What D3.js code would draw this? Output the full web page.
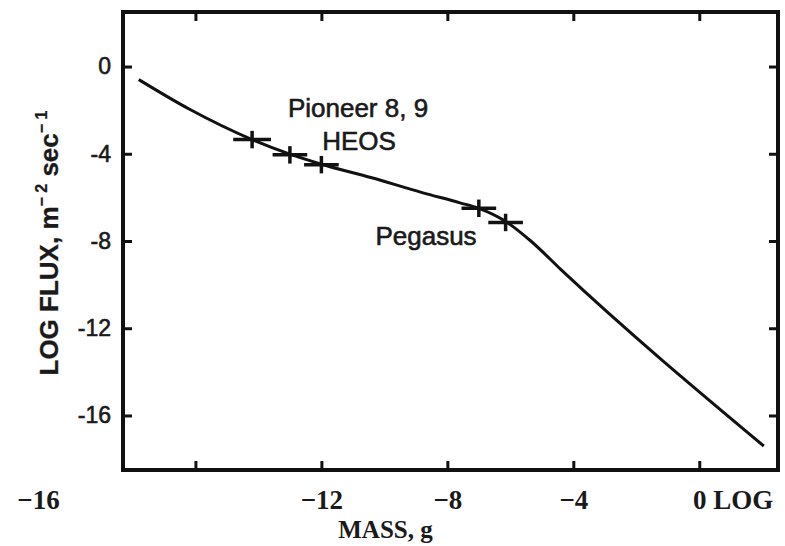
<!DOCTYPE html>
<html>
<head>
<meta charset="utf-8">
<script src="https://cdn.jsdelivr.net/npm/d3@7"></script>
<style>
    body { margin: 0; background: #fff; }
    svg { display: block; }
    .sans { font-family: "Liberation Sans", Arial, sans-serif; fill: #1a1a1a; stroke: #1a1a1a; stroke-width: 0.6px; }
    .serif { font-family: "Liberation Serif", "Times New Roman", serif; font-weight: bold; fill: #1a1a1a; }
</style>
</head>
<body>
<div id="chart"></div>
<script>
// flux curve, log mass (g) vs log flux (m^-2 s^-1)
var massLog = [-17.8, -16.2, -14.2, -13.0, -12.0, -10.4, -8.8, -7.6, -7.0, -6.15, -5.35, -4.4, 2.05];
var fluxLog = [-0.6, -1.95, -3.35, -4.02, -4.48, -5.1, -5.78, -6.25, -6.5, -7.1, -8.0, -9.3, -17.4];

// measurements (Pioneer 8, 9 / HEOS and Pegasus)
var pointMass = [-14.2, -13.0, -12.0, -7.0, -6.15];
var pointFlux = [-3.35, -4.05, -4.5, -6.5, -7.15];
var pointMassErr = [0.6, 0.55, 0.55, 0.55, 0.55];
var pointFluxErr = [0.4, 0.4, 0.4, 0.4, 0.4];

var xTicks = [-16, -12, -8, -4, 0];
var yTicks = [0, -4, -8, -12, -16];

var width = 785, height = 546;
var margin = {top: 12, right: 7, bottom: 76, left: 123};

var svg = d3.select('#chart').append('svg')
    .attr('width', width)
    .attr('height', height);

var x = d3.scaleLinear().domain([-18.3, 2.5]).range([margin.left, width - margin.right]);
var y = d3.scaleLinear().domain([-18.5, 2.5]).range([height - margin.bottom, margin.top]);

// inward ticks on all four sides
var bottom = svg.append('g')
    .attr('transform', 'translate(0,' + (height - margin.bottom) + ')')
    .call(d3.axisBottom(x).tickValues(xTicks).tickSizeInner(-9).tickSizeOuter(0).tickPadding(20)
        .tickFormat(function (d) { return d === 0 ? '0' : '\u2212' + Math.abs(d); }));

svg.append('g')
    .attr('transform', 'translate(0,' + margin.top + ')')
    .call(d3.axisTop(x).tickValues(xTicks).tickSizeInner(-9).tickSizeOuter(0).tickFormat(''));

var left = svg.append('g')
    .attr('transform', 'translate(' + margin.left + ',0)')
    .call(d3.axisLeft(y).tickValues(yTicks).tickSizeInner(-9).tickSizeOuter(0).tickPadding(12)
        .tickFormat(function (d) { return d === 0 ? '0' : '-' + Math.abs(d); }));

svg.append('g')
    .attr('transform', 'translate(' + (width - margin.right) + ',0)')
    .call(d3.axisRight(y).tickValues(yTicks).tickSizeInner(-9).tickSizeOuter(0).tickFormat(''));

svg.selectAll('.domain').remove();
svg.selectAll('.tick line').attr('stroke', '#111').attr('stroke-width', 3);

bottom.selectAll('text')
    .attr('class', 'serif')
    .attr('font-size', 27)
    .attr('fill', '#1a1a1a');

// the -16 label sits far out to the left in the original
bottom.selectAll('.tick').filter(function (d) { return d === -16; })
    .select('text').attr('x', 38 - x(-16));

bottom.selectAll('.tick').filter(function (d) { return d === 0; })
    .select('text').attr('text-anchor', 'start').attr('dx', '-0.25em').text('0 LOG');

left.selectAll('text')
    .attr('class', 'sans')
    .attr('font-size', 23)
    .attr('fill', '#1a1a1a');

// frame
svg.append('rect')
    .attr('x', margin.left)
    .attr('y', margin.top)
    .attr('width', width - margin.left - margin.right)
    .attr('height', height - margin.top - margin.bottom)
    .attr('fill', 'none')
    .attr('stroke', '#111')
    .attr('stroke-width', 4);

// curve
var line = d3.line()
    .x(function (d) { return x(d[0]); })
    .y(function (d) { return y(d[1]); })
    .curve(d3.curveMonotoneX);

svg.append('path')
    .datum(d3.zip(massLog, fluxLog))
    .attr('d', line)
    .attr('fill', 'none')
    .attr('stroke', '#111')
    .attr('stroke-width', 3);

// crosses
var crosses = svg.append('g').selectAll('g')
    .data(d3.range(pointMass.length))
    .enter().append('g');

crosses.append('line')
    .attr('x1', function (i) { return x(pointMass[i] - pointMassErr[i]); })
    .attr('x2', function (i) { return x(pointMass[i] + pointMassErr[i]); })
    .attr('y1', function (i) { return y(pointFlux[i]); })
    .attr('y2', function (i) { return y(pointFlux[i]); })
    .attr('stroke', '#111')
    .attr('stroke-width', 3.5);

crosses.append('line')
    .attr('x1', function (i) { return x(pointMass[i]); })
    .attr('x2', function (i) { return x(pointMass[i]); })
    .attr('y1', function (i) { return y(pointFlux[i] - pointFluxErr[i]); })
    .attr('y2', function (i) { return y(pointFlux[i] + pointFluxErr[i]); })
    .attr('stroke', '#111')
    .attr('stroke-width', 3.5);

// annotations
svg.append('text').attr('class', 'sans')
    .attr('x', 358).attr('y', 117).attr('font-size', 26)
    .attr('text-anchor', 'middle').text('Pioneer 8, 9');
svg.append('text').attr('class', 'sans')
    .attr('x', 359).attr('y', 150).attr('font-size', 26)
    .attr('text-anchor', 'middle').text('HEOS');
svg.append('text').attr('class', 'sans')
    .attr('x', 426).attr('y', 245).attr('font-size', 26)
    .attr('text-anchor', 'middle').text('Pegasus');

// axis titles
svg.append('text').attr('class', 'serif')
    .attr('x', (margin.left + width - margin.right) / 2 - 65)
    .attr('y', 538)
    .attr('font-size', 25)
    .attr('text-anchor', 'middle')
    .text('MASS, g');

var yTitle = svg.append('text').attr('class', 'sans')
    .attr('transform', 'translate(58,243) rotate(-90)')
    .attr('font-size', 26)
    .attr('font-weight', 'bold')
    .style('stroke-width', '0.3px')
    .attr('text-anchor', 'middle');
yTitle.append('tspan').text('LOG FLUX, m');
yTitle.append('tspan').attr('dy', -11).attr('font-size', 16).text('\u2212 2');
yTitle.append('tspan').attr('dy', 11).text(' sec');
yTitle.append('tspan').attr('dy', -11).attr('font-size', 16).text('\u2212 1');
</script>
</body>
</html>
